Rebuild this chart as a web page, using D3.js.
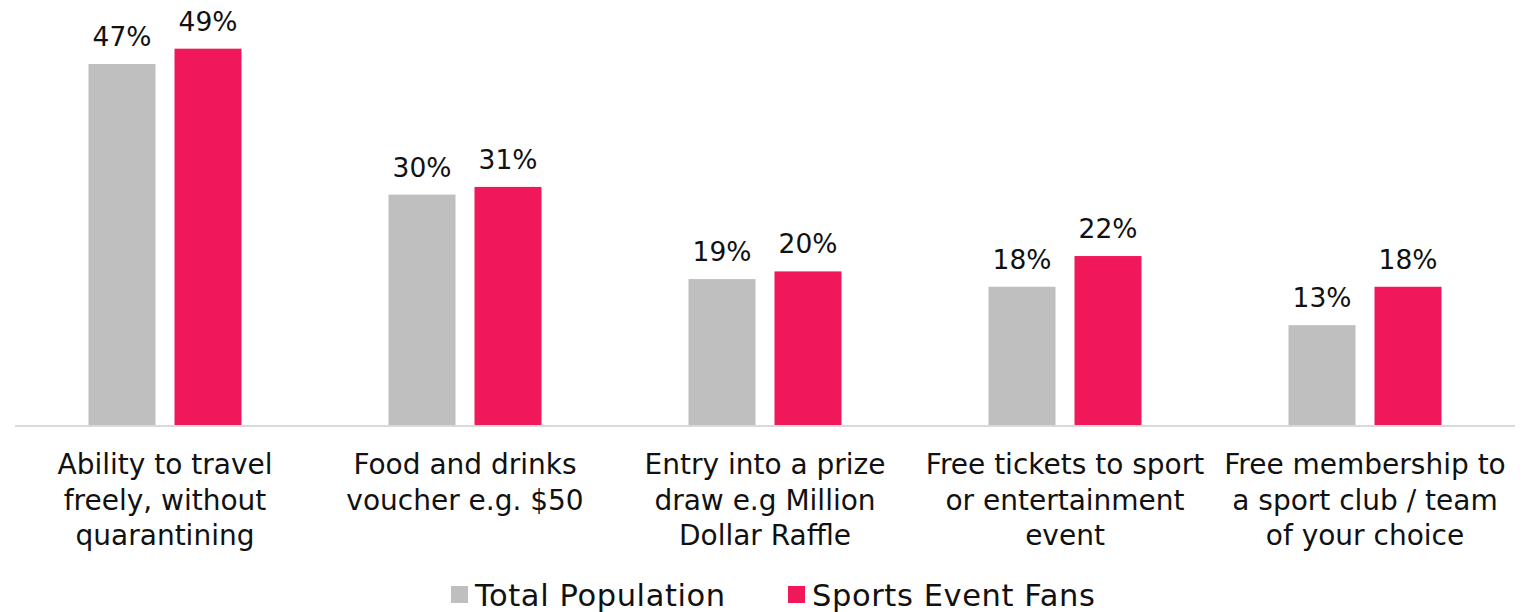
<!DOCTYPE html>
<html><head><meta charset="utf-8">
<script src="https://cdn.jsdelivr.net/npm/d3@7"></script>
<style>body{margin:0;background:#fff}svg{display:block}</style>
</head><body>
<svg id="c" width="1540" height="612"></svg>
<script>
const categories = [
  ["Ability to travel","freely, without","quarantining"],
  ["Food and drinks","voucher e.g. $50"],
  ["Entry into a prize","draw e.g Million","Dollar Raffle"],
  ["Free tickets to sport","or entertainment","event"],
  ["Free membership to","a sport club / team","of your choice"]
];
const seriesNames = ["Total Population","Sports Event Fans"];
const totalPopulation = [47,30,19,18,13];
const sportsEventFans = [49,31,20,22,18];
const colors = ["#BFBFBF","#F0185B"];

const svg = d3.select("#c");
const baseY = 425;
const groupW = 153;
const x = d3.scaleBand().domain(d3.range(categories.length)).range([15,1515]);
const xs = d3.scaleBand().domain([0,1]).range([0,groupW]).paddingInner(0.221);
const y = d3.scaleLinear().domain([0,55]).range([baseY, baseY-7.68*55]);
const series = [totalPopulation, sportsEventFans];
const groupOffset = (x.bandwidth()-groupW)/2;

series.forEach((vals,si)=>{
  const g = svg.append("g");
  g.selectAll("rect").data(vals).join("rect")
    .attr("x",(d,i)=>x(i)+groupOffset+xs(si))
    .attr("width",xs.bandwidth())
    .attr("y",d=>y(d))
    .attr("height",d=>baseY-y(d))
    .attr("fill",colors[si]);
  g.selectAll("text").data(vals).join("text")
    .attr("x",(d,i)=>x(i)+groupOffset+xs(si)+xs.bandwidth()/2)
    .attr("y",d=>y(d)-18)
    .attr("text-anchor","middle")
    .attr("font-family","DejaVu Sans")
    .attr("font-size",26.5)
    .attr("fill","#111")
    .text(d=>d+"%");
});

svg.append("line").attr("x1",15).attr("x2",1515).attr("y1",baseY+1).attr("y2",baseY+1)
  .attr("stroke","#D9D9D9").attr("stroke-width",2);

const labels = svg.append("g");
categories.forEach((lines,i)=>{
  const cx = x(i)+x.bandwidth()/2;
  const t = labels.append("text")
    .attr("x",cx)
    .attr("y",474)
    .attr("text-anchor","middle")
    .attr("font-family","DejaVu Sans")
    .attr("font-size",28)
    .attr("fill","#111");
  lines.forEach((l,j)=>t.append("tspan").attr("x",cx).attr("dy",j?35.5:0).text(l));
});

const leg = svg.append("g");
const legX = [451, 788];
seriesNames.forEach((n,i)=>{
  leg.append("rect").attr("x",legX[i]).attr("y",586).attr("width",17).attr("height",17).attr("fill",colors[i]);
  leg.append("text").attr("x",legX[i]+24).attr("y",606)
    .attr("font-family","DejaVu Sans").attr("font-size",30.5).attr("letter-spacing",0.6)
    .attr("fill","#111").text(n);
});
</script>
</body></html>
